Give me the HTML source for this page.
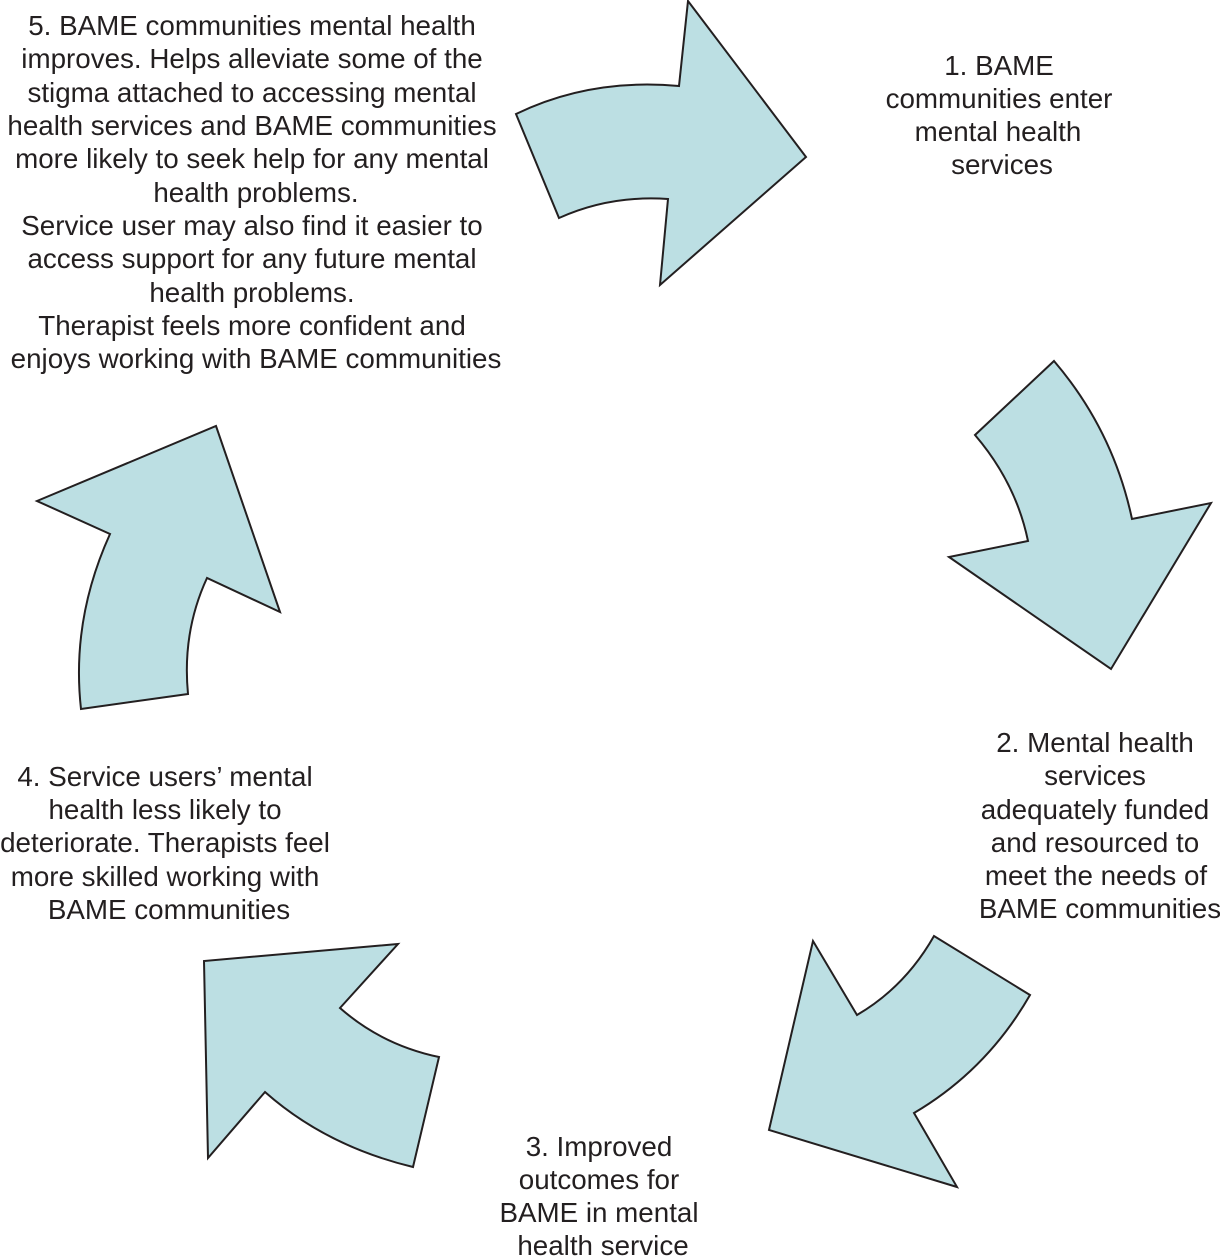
<!DOCTYPE html>
<html>
<head>
<meta charset="utf-8">
<style>
html,body{margin:0;padding:0;background:#fff;width:1220px;height:1257px;overflow:hidden}
svg{display:block}
text{font-family:"Liberation Sans",Arial,sans-serif;font-size:27.78px;fill:#231f20;text-anchor:middle}
path{fill:#bcdfe3;stroke:#231f20;stroke-width:2;stroke-linejoin:miter}
</style>
</head>
<body>
<svg width="1220" height="1257" viewBox="0 0 1220 1257" xmlns="http://www.w3.org/2000/svg">
<path d="M516 114 Q590 78 679 86 L688 1 L806 157 L660 285 L668 199 Q610 195 559 218 Z"/>
<path d="M1054 361 Q1113 430 1132 519 L1211 503 L1111 669 L949 557 L1028 541 Q1016 483 975 435 Z"/>
<path d="M1030 995 Q987 1070 914 1113 L957 1187 L769 1130 L813 941 L857 1015 Q905 987 934 936 Z"/>
<path d="M413 1167 Q326 1146 265 1092 L208 1158 L204 961 L398 944 L340 1008 Q382 1045 439 1057 Z"/>
<path d="M81 709 Q71 620 110 534 L37 501 L216 426 L280 612 L207 578 Q182 632 188 694 Z"/>
<text x="252" y="35">5. BAME communities mental health</text>
<text x="252" y="68">improves. Helps alleviate some of the</text>
<text x="252" y="102">stigma attached to accessing mental</text>
<text x="252" y="135">health services and BAME communities</text>
<text x="252" y="168">more likely to seek help for any mental</text>
<text x="256" y="202">health problems.</text>
<text x="252" y="235">Service user may also find it easier to</text>
<text x="252" y="268">access support for any future mental</text>
<text x="252" y="302">health problems.</text>
<text x="252" y="335">Therapist feels more confident and</text>
<text x="256" y="368">enjoys working with BAME communities</text>
<text x="999" y="75">1. BAME</text>
<text x="999" y="108">communities enter</text>
<text x="998" y="141">mental health</text>
<text x="1002" y="174">services</text>
<text x="1095" y="752">2. Mental health</text>
<text x="1095" y="785">services</text>
<text x="1095" y="819">adequately funded</text>
<text x="1095" y="852">and resourced to</text>
<text x="1096" y="885">meet the needs of</text>
<text x="1100" y="918">BAME communities</text>
<text x="599" y="1156">3. Improved</text>
<text x="599" y="1189">outcomes for</text>
<text x="599" y="1222">BAME in mental</text>
<text x="603" y="1255">health service</text>
<text x="165" y="786">4. Service users’ mental</text>
<text x="165" y="819">health less likely to</text>
<text x="165" y="852">deteriorate. Therapists feel</text>
<text x="165" y="886">more skilled working with</text>
<text x="169" y="919">BAME communities</text>
</svg>
</body>
</html>
